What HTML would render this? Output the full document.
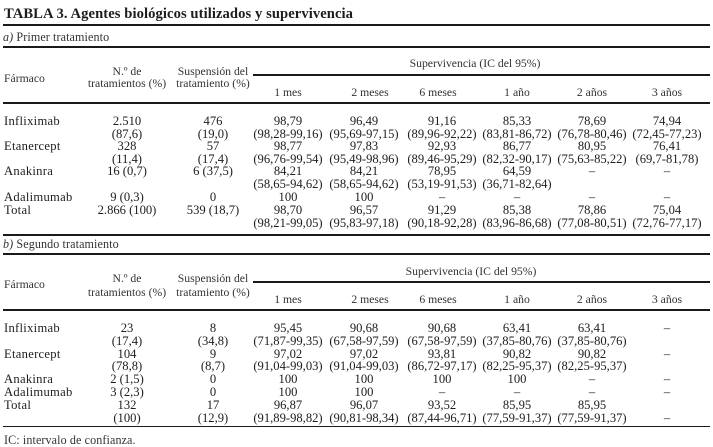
<!DOCTYPE html>
<html lang="es">
<head>
<meta charset="utf-8">
<title>Tabla 3</title>
<style>
html,body{margin:0;padding:0;background:#fff}
#page{position:relative;width:713px;height:447px;overflow:hidden;background:#fff;font-family:"Liberation Serif",serif;color:#1d1d1d;font-size:12.6px;line-height:16px}
#page span{position:absolute;white-space:nowrap;display:block;height:16px}
#page i.rule{position:absolute;display:block;background:#1a1a1a;left:3px;width:707px;height:2px}
#page i.partial{left:253px;width:457px}
#page i.thin{height:1px}
.l{left:4px}
.c{transform:translateX(-50%)}
#page .lab{letter-spacing:.28px}
.h{font-size:11.7px;color:#333}
#page .sec{font-size:12.1px;left:3px;letter-spacing:.1px}
.n{left:127px}.s{left:213px}.m1{left:288px}.m2{left:364px}.m6{left:442px}.y1{left:517px}.y2{left:592px}.y3{left:667px}
.hm2{left:370px}.hm6{left:438px}
.a1{top:113px}.a2{top:125.5px}.a3{top:138px}.a4{top:151px}.a5{top:163px}.a6{top:176px}.a7{top:189px}.a8{top:202px}.a9{top:215px}
.b1{top:320px}.b2{top:333px}.b3{top:346px}.b4{top:358px}.b5{top:371px}.b6{top:384px}.b7{top:397px}.b8{top:410px}
.ha{top:85px}.hb{top:292px}
</style>
</head>
<body>
<div id="page">
<span class="l" style="top:6px;font-weight:bold;font-size:14.6px;letter-spacing:.08px">TABLA 3. Agentes biológicos utilizados y supervivencia</span>
<i class="rule" style="top:24px"></i>
<span class="l h sec" style="top:29px"><em>a)</em> Primer tratamiento</span>
<i class="rule" style="top:46px"></i>

<span class="c h" style="left:475px;top:56px">Supervivencia (IC del 95%)</span>
<i class="rule partial" style="top:74px"></i>
<span class="l h" style="top:71px">Fármaco</span>
<span class="c h n" style="top:64px">N.º de</span>
<span class="c h n" style="top:76px">tratamientos (%)</span>
<span class="c h s" style="top:64px">Suspensión del</span>
<span class="c h s" style="top:76px">tratamiento (%)</span>
<span class="c h m1 ha">1 mes</span>
<span class="c h hm2 ha">2 meses</span>
<span class="c h hm6 ha">6 meses</span>
<span class="c h y1 ha">1 año</span>
<span class="c h y2 ha">2 años</span>
<span class="c h y3 ha">3 años</span>
<i class="rule" style="top:102px"></i>

<span class="l lab a1">Infliximab</span>
<span class="c n a1">2.510</span>
<span class="c s a1">476</span>
<span class="c m1 a1">98,79</span>
<span class="c m2 a1">96,49</span>
<span class="c m6 a1">91,16</span>
<span class="c y1 a1">85,33</span>
<span class="c y2 a1">78,69</span>
<span class="c y3 a1">74,94</span>
<span class="c n a2">(87,6)</span>
<span class="c s a2">(19,0)</span>
<span class="c m1 a2">(98,28-99,16)</span>
<span class="c m2 a2">(95,69-97,15)</span>
<span class="c m6 a2">(89,96-92,22)</span>
<span class="c y1 a2">(83,81-86,72)</span>
<span class="c y2 a2">(76,78-80,46)</span>
<span class="c y3 a2">(72,45-77,23)</span>

<span class="l lab a3">Etanercept</span>
<span class="c n a3">328</span>
<span class="c s a3">57</span>
<span class="c m1 a3">98,77</span>
<span class="c m2 a3">97,83</span>
<span class="c m6 a3">92,93</span>
<span class="c y1 a3">86,77</span>
<span class="c y2 a3">80,95</span>
<span class="c y3 a3">76,41</span>
<span class="c n a4">(11,4)</span>
<span class="c s a4">(17,4)</span>
<span class="c m1 a4">(96,76-99,54)</span>
<span class="c m2 a4">(95,49-98,96)</span>
<span class="c m6 a4">(89,46-95,29)</span>
<span class="c y1 a4">(82,32-90,17)</span>
<span class="c y2 a4">(75,63-85,22)</span>
<span class="c y3 a4">(69,7-81,78)</span>

<span class="l lab a5">Anakinra</span>
<span class="c n a5">16 (0,7)</span>
<span class="c s a5">6 (37,5)</span>
<span class="c m1 a5">84,21</span>
<span class="c m2 a5">84,21</span>
<span class="c m6 a5">78,95</span>
<span class="c y1 a5">64,59</span>
<span class="c y2 a5">–</span>
<span class="c y3 a5">–</span>
<span class="c m1 a6">(58,65-94,62)</span>
<span class="c m2 a6">(58,65-94,62)</span>
<span class="c m6 a6">(53,19-91,53)</span>
<span class="c y1 a6">(36,71-82,64)</span>

<span class="l lab a7">Adalimumab</span>
<span class="c n a7">9 (0,3)</span>
<span class="c s a7">0</span>
<span class="c m1 a7">100</span>
<span class="c m2 a7">100</span>
<span class="c m6 a7">–</span>
<span class="c y1 a7">–</span>
<span class="c y2 a7">–</span>
<span class="c y3 a7">–</span>

<span class="l lab a8">Total</span>
<span class="c n a8">2.866 (100)</span>
<span class="c s a8">539 (18,7)</span>
<span class="c m1 a8">98,70</span>
<span class="c m2 a8">96,57</span>
<span class="c m6 a8">91,29</span>
<span class="c y1 a8">85,38</span>
<span class="c y2 a8">78,86</span>
<span class="c y3 a8">75,04</span>
<span class="c m1 a9">(98,21-99,05)</span>
<span class="c m2 a9">(95,83-97,18)</span>
<span class="c m6 a9">(90,18-92,28)</span>
<span class="c y1 a9">(83,96-86,68)</span>
<span class="c y2 a9">(77,08-80,51)</span>
<span class="c y3 a9">(72,76-77,17)</span>

<i class="rule" style="top:234px"></i>
<span class="l h sec" style="top:236px"><em>b)</em> Segundo tratamiento</span>
<i class="rule" style="top:253px"></i>

<span class="c h" style="left:471px;top:264px">Supervivencia (IC del 95%)</span>
<i class="rule partial" style="top:281px"></i>
<span class="l h" style="top:277px">Fármaco</span>
<span class="c h n" style="top:271px">N.º de</span>
<span class="c h n" style="top:285px">tratamientos (%)</span>
<span class="c h s" style="top:271px">Suspensión del</span>
<span class="c h s" style="top:285px">tratamiento (%)</span>
<span class="c h m1 hb">1 mes</span>
<span class="c h hm2 hb">2 meses</span>
<span class="c h hm6 hb">6 meses</span>
<span class="c h y1 hb">1 año</span>
<span class="c h y2 hb">2 años</span>
<span class="c h y3 hb">3 años</span>
<i class="rule" style="top:309px"></i>

<span class="l lab b1">Infliximab</span>
<span class="c n b1">23</span>
<span class="c s b1">8</span>
<span class="c m1 b1">95,45</span>
<span class="c m2 b1">90,68</span>
<span class="c m6 b1">90,68</span>
<span class="c y1 b1">63,41</span>
<span class="c y2 b1">63,41</span>
<span class="c y3 b1">–</span>
<span class="c n b2">(17,4)</span>
<span class="c s b2">(34,8)</span>
<span class="c m1 b2">(71,87-99,35)</span>
<span class="c m2 b2">(67,58-97,59)</span>
<span class="c m6 b2">(67,58-97,59)</span>
<span class="c y1 b2">(37,85-80,76)</span>
<span class="c y2 b2">(37,85-80,76)</span>

<span class="l lab b3">Etanercept</span>
<span class="c n b3">104</span>
<span class="c s b3">9</span>
<span class="c m1 b3">97,02</span>
<span class="c m2 b3">97,02</span>
<span class="c m6 b3">93,81</span>
<span class="c y1 b3">90,82</span>
<span class="c y2 b3">90,82</span>
<span class="c y3 b3">–</span>
<span class="c n b4">(78,8)</span>
<span class="c s b4">(8,7)</span>
<span class="c m1 b4">(91,04-99,03)</span>
<span class="c m2 b4">(91,04-99,03)</span>
<span class="c m6 b4">(86,72-97,17)</span>
<span class="c y1 b4">(82,25-95,37)</span>
<span class="c y2 b4">(82,25-95,37)</span>

<span class="l lab b5">Anakinra</span>
<span class="c n b5">2 (1,5)</span>
<span class="c s b5">0</span>
<span class="c m1 b5">100</span>
<span class="c m2 b5">100</span>
<span class="c m6 b5">100</span>
<span class="c y1 b5">100</span>
<span class="c y2 b5">–</span>
<span class="c y3 b5">–</span>

<span class="l lab b6">Adalimumab</span>
<span class="c n b6">3 (2,3)</span>
<span class="c s b6">0</span>
<span class="c m1 b6">100</span>
<span class="c m2 b6">100</span>
<span class="c m6 b6">–</span>
<span class="c y1 b6">–</span>
<span class="c y2 b6">–</span>
<span class="c y3 b6">–</span>

<span class="l lab b7">Total</span>
<span class="c n b7">132</span>
<span class="c s b7">17</span>
<span class="c m1 b7">96,87</span>
<span class="c m2 b7">96,07</span>
<span class="c m6 b7">93,52</span>
<span class="c y1 b7">85,95</span>
<span class="c y2 b7">85,95</span>
<span class="c n b8">(100)</span>
<span class="c s b8">(12,9)</span>
<span class="c m1 b8">(91,89-98,82)</span>
<span class="c m2 b8">(90,81-98,34)</span>
<span class="c m6 b8">(87,44-96,71)</span>
<span class="c y1 b8">(77,59-91,37)</span>
<span class="c y2 b8">(77,59-91,37)</span>
<span class="c y3 b8">–</span>

<i class="rule thin" style="top:426px"></i>
<span class="l h sec" style="top:432px;left:4px">IC: intervalo de confianza.</span>
</div>
</body>
</html>
